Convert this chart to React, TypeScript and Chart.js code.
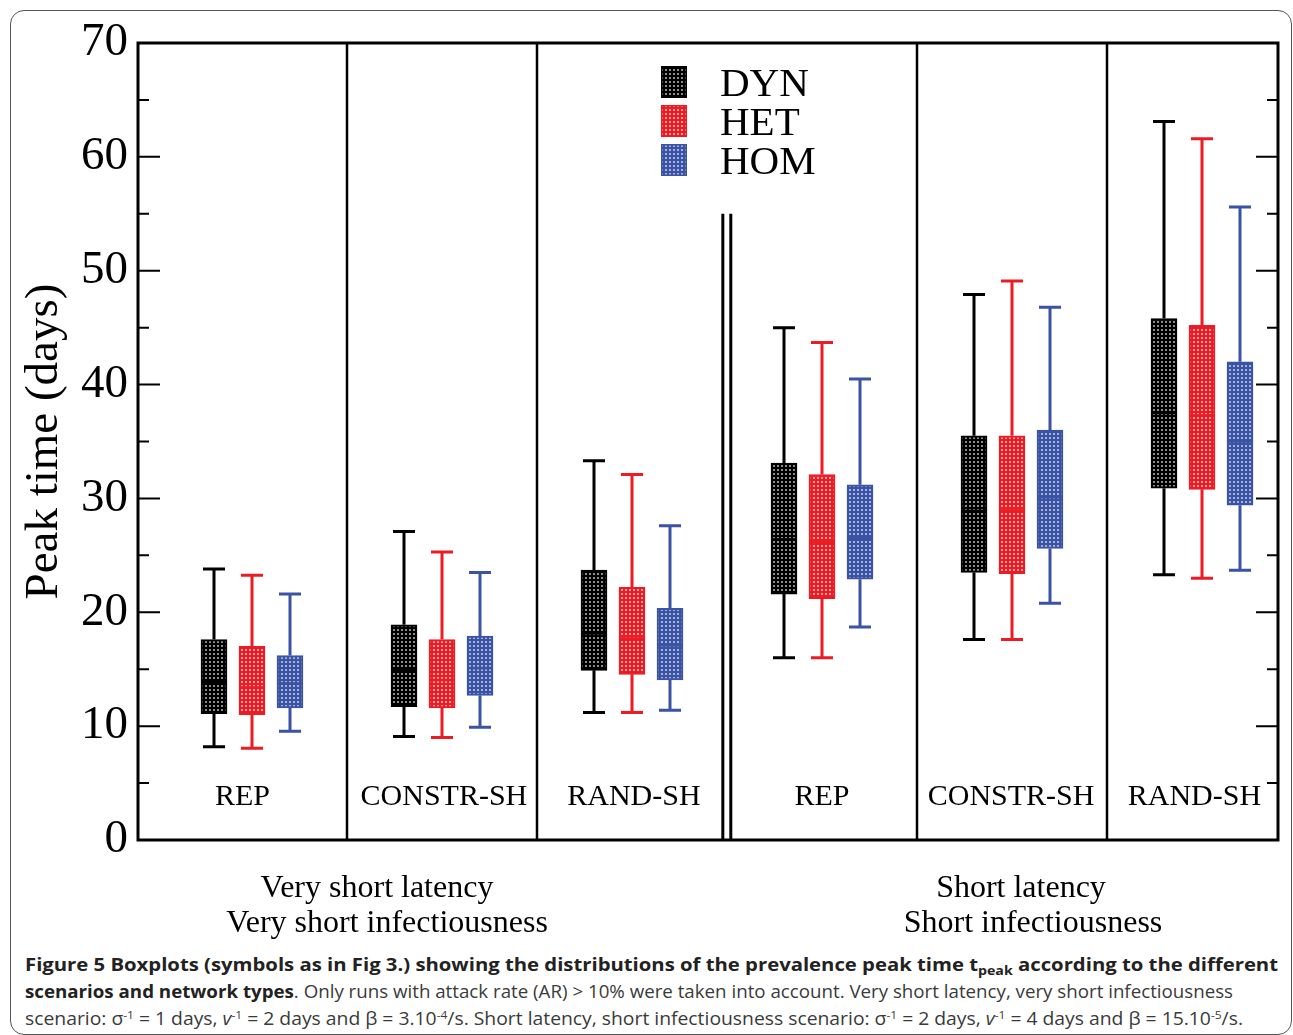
import React, { useEffect, useLayoutEffect, useRef } from "react";
import { Chart, registerables } from "chart.js";

Chart.register(...registerables);

// ---------- data ----------
const groupLabels = ["REP", "CONSTR-SH", "RAND-SH", "REP", "CONSTR-SH", "RAND-SH"];
const seriesNames = ["DYN", "HET", "HOM"];
const yTickValues = [0, 10, 20, 30, 40, 50, 60, 70];
const yTickLabels = ["0", "10", "20", "30", "40", "50", "60", "70"];
const yTitle = "Peak time (days)";
const scenarioLeft = ["Very short latency", "Very short infectiousness"];
const scenarioRight = ["Short latency", "Short infectiousness"];

const dynMin = [8.2, 9.1, 11.2, 16.0, 17.6, 23.3];
const dynQ1 = [11.1, 11.7, 14.9, 21.6, 23.5, 30.9];
const dynMed = [13.9, 14.9, 18.15, 26.4, 28.9, 37.5];
const dynQ3 = [17.6, 18.9, 23.7, 33.1, 35.5, 45.8];
const dynMax = [23.8, 27.1, 33.3, 45.0, 47.9, 63.1];

const hetMin = [8.05, 9.0, 11.2, 16.0, 17.6, 23.0];
const hetQ1 = [11.0, 11.6, 14.55, 21.2, 23.4, 30.8];
const hetMed = [13.4, 14.05, 17.7, 26.2, 28.95, 37.3];
const hetQ3 = [17.0, 17.6, 22.2, 32.1, 35.5, 45.2];
const hetMax = [23.25, 25.3, 32.1, 43.7, 49.1, 61.6];

const homMin = [9.55, 9.9, 11.4, 18.7, 20.8, 23.7];
const homQ1 = [11.6, 12.7, 14.05, 22.9, 25.6, 29.4];
const homMed = [13.75, 15.1, 17.1, 26.5, 30.1, 35.0];
const homQ3 = [16.2, 17.9, 20.35, 31.2, 36.0, 42.0];
const homMax = [21.6, 23.5, 27.6, 40.5, 46.8, 55.6];

// ---------- styles / layout ----------
const seriesColors = ["#000000", "#ed1c24", "#3a53a4"];
const dotColors = ["rgba(255,255,255,0.55)", "rgba(255,255,255,0.6)", "rgba(255,255,255,0.55)"];
const seriesOffsets = [0.4, 0.6, 0.8];
const groupLabelX = [0.55, 1.61, 2.61, 3.6, 4.595, 5.56];
const dividerX = [1.1, 2.1, 4.1, 5.1];
const doubleDividerX = [3.078, 3.12];
const doubleDividerTop = 55;
const SERIF = '"Liberation Serif", "Times New Roman", serif';
const CANVAS_W = 1293;
const CANVAS_H = 945;

function makePattern(ctx: CanvasRenderingContext2D, color: string, dot: string) {
  const c = document.createElement("canvas");
  c.width = 4;
  c.height = 4;
  const x = c.getContext("2d")!;
  x.fillStyle = color;
  x.fillRect(0, 0, 4, 4);
  x.fillStyle = dot;
  x.fillRect(1, 1, 2, 2);
  return ctx.createPattern(c, "repeat")!;
}

const decorPlugin = {
  id: "boxDecor",
  beforeDatasetsDraw(chart: any) {
    const { ctx } = chart;
    const xs = chart.scales.x;
    const ys = chart.scales.y;
    chart.data.datasets.forEach((ds: any) => {
      const st = ds.stats;
      ctx.save();
      ctx.strokeStyle = ds.borderColor;
      ctx.lineWidth = 3;
      ds.data.forEach((pt: any, i: number) => {
        const x = xs.getPixelForValue(pt.x);
        const yq1 = ys.getPixelForValue(pt.y[0]);
        const yq3 = ys.getPixelForValue(pt.y[1]);
        const yLo = ys.getPixelForValue(st.min[i]);
        const yHi = ys.getPixelForValue(st.max[i]);
        ctx.beginPath();
        ctx.moveTo(x, yq1);
        ctx.lineTo(x, yLo);
        ctx.moveTo(x, yq3);
        ctx.lineTo(x, yHi);
        ctx.moveTo(x - 11, yLo);
        ctx.lineTo(x + 11, yLo);
        ctx.moveTo(x - 11, yHi);
        ctx.lineTo(x + 11, yHi);
        ctx.stroke();
      });
      ctx.restore();
    });
  },
  afterDatasetsDraw(chart: any) {
    const { ctx, chartArea } = chart;
    const xs = chart.scales.x;
    const ys = chart.scales.y;
    const { left, right, top, bottom } = chartArea;

    // medians
    chart.data.datasets.forEach((ds: any) => {
      ctx.save();
      ctx.strokeStyle = ds.borderColor;
      ctx.lineWidth = 2.5;
      ds.data.forEach((pt: any, i: number) => {
        const x = xs.getPixelForValue(pt.x);
        const y = ys.getPixelForValue(ds.stats.med[i]);
        ctx.beginPath();
        ctx.moveTo(x - 13, y);
        ctx.lineTo(x + 13, y);
        ctx.stroke();
      });
      ctx.restore();
    });

    ctx.save();
    ctx.strokeStyle = "#000";
    // dividers
    ctx.lineWidth = 2.5;
    dividerX.forEach((v) => {
      const x = xs.getPixelForValue(v);
      ctx.beginPath();
      ctx.moveTo(x, top);
      ctx.lineTo(x, bottom);
      ctx.stroke();
    });
    ctx.lineWidth = 3;
    doubleDividerX.forEach((v) => {
      const x = xs.getPixelForValue(v);
      ctx.beginPath();
      ctx.moveTo(x, ys.getPixelForValue(doubleDividerTop));
      ctx.lineTo(x, bottom);
      ctx.stroke();
    });

    // ticks (inward, both sides)
    ctx.lineWidth = 2;
    for (let i = 0; i < yTickValues.length; i++) {
      const v = yTickValues[i];
      const y = ys.getPixelForValue(v);
      if (i > 0 && i < yTickValues.length - 1) {
        ctx.beginPath();
        ctx.moveTo(left, y);
        ctx.lineTo(left + 22, y);
        ctx.moveTo(right, y);
        ctx.lineTo(right - 22, y);
        ctx.stroke();
      }
      if (i < yTickValues.length - 1) {
        const ym = ys.getPixelForValue((v + yTickValues[i + 1]) / 2);
        ctx.beginPath();
        ctx.moveTo(left, ym);
        ctx.lineTo(left + 11, ym);
        ctx.moveTo(right, ym);
        ctx.lineTo(right - 11, ym);
        ctx.stroke();
      }
    }

    // frame
    ctx.lineWidth = 3;
    ctx.strokeRect(left, top, right - left, bottom - top);

    // group labels
    ctx.fillStyle = "#000";
    ctx.font = `30px ${SERIF}`;
    ctx.textAlign = "center";
    ctx.textBaseline = "middle";
    groupLabels.forEach((g, i) => {
      ctx.fillText(g, xs.getPixelForValue(groupLabelX[i]), bottom - 43);
    });

    // legend
    const lx = left + 523;
    const ly = top + 23;
    chart.data.datasets.forEach((ds: any, i: number) => {
      const y0 = ly + i * 39;
      ctx.fillStyle = ds.backgroundColor;
      ctx.fillRect(lx, y0, 26, 32);
      ctx.strokeStyle = ds.borderColor;
      ctx.lineWidth = 1.5;
      ctx.strokeRect(lx + 0.75, y0 + 0.75, 24.5, 30.5);
      ctx.fillStyle = "#000";
      ctx.font = `41px ${SERIF}`;
      ctx.textAlign = "left";
      ctx.textBaseline = "middle";
      ctx.fillText(ds.label, lx + 59, y0 + 19);
    });

    // y title
    ctx.save();
    ctx.translate(45, (top + bottom) / 2);
    ctx.rotate(-Math.PI / 2);
    ctx.font = `47px ${SERIF}`;
    ctx.textAlign = "center";
    ctx.textBaseline = "middle";
    ctx.fillStyle = "#000";
    ctx.fillText(yTitle, 0, 0);
    ctx.restore();

    // scenario labels
    ctx.font = `32px ${SERIF}`;
    ctx.textAlign = "center";
    ctx.textBaseline = "middle";
    ctx.fillStyle = "#000";
    ctx.fillText(scenarioLeft[0], 377, 889);
    ctx.fillText(scenarioLeft[1], 387, 924);
    ctx.fillText(scenarioRight[0], 1021, 889);
    ctx.fillText(scenarioRight[1], 1033, 924);
    ctx.restore();
  },
};

const captionTargets = [1253, 1208, 1218];

export default function App() {
  const canvasRef = useRef<HTMLCanvasElement>(null);
  const lineRefs = useRef<(HTMLDivElement | null)[]>([]);

  useEffect(() => {
    const canvas = canvasRef.current!;
    const ctx = canvas.getContext("2d")!;
    const stats = [
      { min: dynMin, q1: dynQ1, med: dynMed, q3: dynQ3, max: dynMax },
      { min: hetMin, q1: hetQ1, med: hetMed, q3: hetQ3, max: hetMax },
      { min: homMin, q1: homQ1, med: homMed, q3: homQ3, max: homMax },
    ];
    const datasets = seriesNames.map((name, si) => ({
      label: name,
      data: groupLabels.map((_, gi) => ({
        x: gi + seriesOffsets[si],
        y: [stats[si].q1[gi], stats[si].q3[gi]],
      })),
      backgroundColor: makePattern(ctx, seriesColors[si], dotColors[si]),
      borderColor: seriesColors[si],
      borderWidth: 2,
      borderSkipped: false,
      barThickness: 26,
      grouped: false,
      stats: stats[si],
    }));

    const chart = new Chart(ctx, {
      type: "bar",
      data: { datasets: datasets as any },
      options: {
        animation: false,
        responsive: false,
        events: [],
        layout: { padding: { left: 0, top: 43, right: 15, bottom: 105 } },
        plugins: { legend: { display: false }, tooltip: { enabled: false } },
        scales: {
          x: { type: "linear", min: 0, max: 6, offset: false, display: false },
          y: {
            type: "linear",
            min: 0,
            max: 70,
            grid: { display: false, drawTicks: false },
            border: { display: false },
            ticks: {
              stepSize: 10,
              padding: 10,
              color: "#000",
              font: { family: SERIF, size: 47 },
              callback: (v: any) => {
                const idx = yTickValues.indexOf(Number(v));
                return idx >= 0 ? yTickLabels[idx] : "";
              },
            },
            afterFit: (s: any) => {
              s.width = 138;
            },
          },
        },
      } as any,
      plugins: [decorPlugin],
    });
    return () => chart.destroy();
  }, []);

  useLayoutEffect(() => {
    lineRefs.current.forEach((el, i) => {
      if (!el) return;
      el.style.transform = "none";
      const w = el.getBoundingClientRect().width;
      if (w > 0) el.style.transform = `scaleX(${captionTargets[i] / w})`;
    });
  }, []);

  const lineStyle: React.CSSProperties = {
    display: "inline-block",
    whiteSpace: "nowrap",
    transformOrigin: "left center",
    height: 27,
    lineHeight: "27px",
  };
  const supStyle: React.CSSProperties = { fontSize: "0.62em", verticalAlign: "0.55em", lineHeight: 0 };
  const subStyle: React.CSSProperties = { fontSize: "0.7em", verticalAlign: "-0.3em", lineHeight: 0 };

  return (
    <div style={{ position: "absolute", left: 0, top: 0, width: CANVAS_W, height: 1035, background: "#fff", overflow: "hidden" }}>
      <div
        style={{
          position: "absolute",
          left: 10,
          top: 10,
          width: 1282,
          height: 1025,
          boxSizing: "border-box",
          border: "1.5px solid #555",
          borderRadius: 14,
        }}
      />
      <canvas
        ref={canvasRef}
        width={CANVAS_W}
        height={CANVAS_H}
        style={{ position: "absolute", left: 0, top: 0, width: CANVAS_W, height: CANVAS_H }}
      />
      <div
        style={{
          position: "absolute",
          left: 25,
          top: 950,
          fontFamily: '"Open Sans", "Noto Sans", sans-serif',
          fontSize: 18.5,
          color: "#3a3a3a",
        }}
      >
        <div style={{ height: 27 }}>
          <div ref={(el) => { lineRefs.current[0] = el; }} style={{ ...lineStyle, fontWeight: 700, color: "#222" }}>
            Figure 5 Boxplots (symbols as in Fig 3.) showing the distributions of the prevalence peak time t
            <span style={subStyle}>peak</span> according to the different
          </div>
        </div>
        <div style={{ height: 27 }}>
          <div ref={(el) => { lineRefs.current[1] = el; }} style={lineStyle}>
            <b style={{ color: "#222" }}>scenarios and network types</b>. Only runs with attack rate (AR) &gt; 10% were taken into account. Very short latency, very short infectiousness
          </div>
        </div>
        <div style={{ height: 27 }}>
          <div ref={(el) => { lineRefs.current[2] = el; }} style={lineStyle}>
            scenario: σ<span style={supStyle}>-1</span> = 1 days, <i>v</i>
            <span style={supStyle}>-1</span> = 2 days and β = 3.10<span style={supStyle}>-4</span>/s. Short latency, short infectiousness scenario: σ
            <span style={supStyle}>-1</span> = 2 days, <i>v</i>
            <span style={supStyle}>-1</span> = 4 days and β = 15.10<span style={supStyle}>-5</span>/s.
          </div>
        </div>
      </div>
    </div>
  );
}
